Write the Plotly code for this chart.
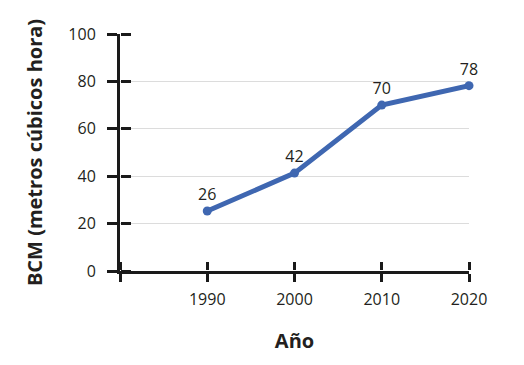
import plotly.graph_objects as go

years = [1990, 2000, 2010, 2020]
values = [25.3, 41.3, 70, 78.2]
labels = ["26", "42", "70", "78"]
x_ticks = [1980, 1990, 2000, 2010, 2020]
x_ticktext = ["", "1990", "2000", "2010", "2020"]
y_ticks = [0, 20, 40, 60, 80, 100]

FONT = "Open Sans"
TXT = "#231f20"
AX = "#1a1a1a"

fig = go.Figure()
fig.add_trace(go.Scatter(
    x=years, y=values, mode="lines+markers+text",
    text=labels, textposition="top center",
    textfont=dict(family=FONT, size=16, color=TXT),
    line=dict(color="#3f67b1", width=5),
    marker=dict(color="#3f67b1", size=9),
    showlegend=False, cliponaxis=False,
))
# invisible companion traces so the crossing tick axes render
fig.add_trace(go.Scatter(
    x=years, y=values, xaxis="x", yaxis="y2", mode="markers",
    marker=dict(opacity=0), showlegend=False, hoverinfo="skip",
))
fig.add_trace(go.Scatter(
    x=years, y=values, xaxis="x2", yaxis="y3", mode="markers",
    marker=dict(opacity=0), showlegend=False, hoverinfo="skip",
))

fig.update_layout(
    width=516, height=357,
    margin=dict(l=112, r=55, t=26, b=94, autoexpand=False),
    paper_bgcolor="white", plot_bgcolor="rgba(0,0,0,0)",
    font=dict(family=FONT, size=16, color=TXT),
    xaxis=dict(
        range=[1980, 2020], tickmode="array", tickvals=x_ticks, ticktext=x_ticktext,
        showgrid=False, zeroline=False, showline=True, linecolor=AX, linewidth=3,
        ticks="outside", ticklen=8, tickwidth=3, tickcolor=AX,
        ticklabelstandoff=4,
        title=dict(text="<b>Año</b>", font=dict(family=FONT, size=20, color=TXT), standoff=25),
    ),
    yaxis=dict(
        range=[0, 100], tickmode="array", tickvals=y_ticks,
        showgrid=True, gridcolor="#dcdcdc", gridwidth=1, zeroline=False,
        showline=True, linecolor=AX, linewidth=3,
        ticks="outside", ticklen=10, tickwidth=3, tickcolor=AX,
        ticklabelstandoff=8,
        title=dict(text="<b>BCM (metros cúbicos hora)</b>", font=dict(family=FONT, size=20, color=TXT), standoff=21),
    ),
    yaxis2=dict(
        overlaying="y", anchor="free", position=0, side="right", range=[0, 100],
        tickmode="array", tickvals=y_ticks, showticklabels=False,
        showgrid=False, zeroline=False, showline=False,
        ticks="outside", ticklen=10, tickwidth=3, tickcolor=AX,
    ),
    # thin helper band at the bottom: its x axis sits on top of it and ticks point up
    xaxis2=dict(
        domain=[0, 1], anchor="y3", side="top", range=[1980, 2020],
        tickmode="array", tickvals=x_ticks, showticklabels=False,
        showgrid=False, zeroline=False, showline=False,
        ticks="outside", ticklen=8, tickwidth=3, tickcolor=AX,
    ),
    yaxis3=dict(
        domain=[0, 0.001], anchor="x2", range=[0, 100], visible=False,
    ),
)

fig.write_html("out.html")
